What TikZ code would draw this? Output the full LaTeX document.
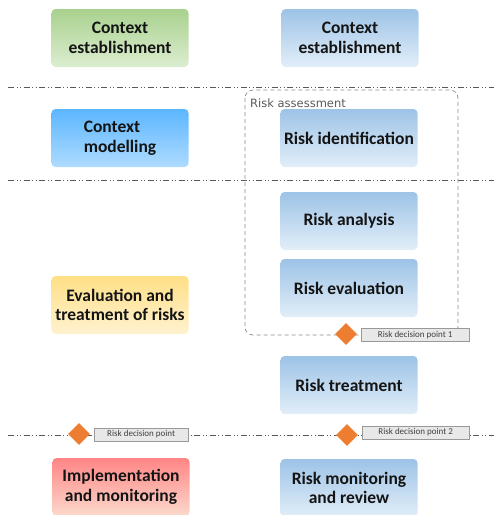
\documentclass[tikz,border=0pt]{standalone}
\usepackage{fontspec}
\setmainfont{Carlito}
\newfontfamily\framefont{DejaVu Sans}
\usetikzlibrary{arrows,fit,positioning,shapes.geometric}
\definecolor{greentop}{HTML}{A9D18E}
\definecolor{greenbot}{HTML}{DCEDD0}
\definecolor{bluetop}{HTML}{9DC3E6}
\definecolor{bluebot}{HTML}{E2EEF9}
\definecolor{skytop}{HTML}{5CB6FF}
\definecolor{skybot}{HTML}{AEDBFF}
\definecolor{yellowtop}{HTML}{FFDF86}
\definecolor{yellowbot}{HTML}{FFF2CF}
\definecolor{redtop}{HTML}{FF8585}
\definecolor{redbot}{HTML}{FBD9CC}
\definecolor{decisionorange}{HTML}{ED7D31}
\tikzset{
    %Define style for boxes
    phase/.style={
           rectangle,
           rounded corners=4pt,
           minimum width=137pt,
           minimum height=58pt,
           font=\fontsize{17.5}{19.5}\selectfont\bfseries,
           text=black!92,
           align=center},
    greenbox/.style={phase, top color=greentop, bottom color=greenbot},
    bluebox/.style={phase, top color=bluetop, bottom color=bluebot},
    skybox/.style={phase, top color=skytop, bottom color=skybot, align=left},
    yellowbox/.style={phase, top color=yellowtop, bottom color=yellowbot},
    redbox/.style={phase, top color=redtop, bottom color=redbot},
    %Define style for decision points
    decision/.style={
           diamond,
           fill=decisionorange,
           minimum width=22pt,
           minimum height=22pt,
           inner sep=0pt},
    decisionlabel/.style={
           rectangle,
           draw=black!40, fill=black!9,
           minimum height=13pt,
           inner sep=1pt,
           font=\fontsize{9}{10}\selectfont,
           text=black!75},
    % Define line styles
    separator/.style={
           draw=black!65,
           line width=0.9pt,
           dash pattern=on 6pt off 2.5pt on 1pt off 2.5pt on 1pt off 2.5pt},
    assessframe/.style={
           draw=black!45,
           line width=0.7pt,
           dash pattern=on 4pt off 3pt,
           rounded corners=8pt}
}
\begin{document}
\begin{tikzpicture}[x=1pt,y=-1pt]
\useasboundingbox (0,0) rectangle (494,515);
 %separators
\coordinate (sepaw) at (8,87);
\coordinate (sepae) at (494,87);
\coordinate (sepbw) at (8,180);
\coordinate (sepbe) at (494,180);
\coordinate (sepcw) at (8,435);
\coordinate (sepce) at (494,435);
\path[separator] (sepaw) -- (sepae);
\path[separator] (sepbw) -- (sepbe);
\path[separator] (sepcw) -- (sepce);
 %risk assessment frame
\draw[assessframe] (245,90) rectangle (458,335);
\node[anchor=north west, inner sep=1pt, font=\framefont\fontsize{11.5}{13}\selectfont, text=black!65]
    (assesslabel) at (249,97.5) {Risk assessment};
 %left column
\node[greenbox] (ctxest) at (120,38) {Context\\establishment};
\node[skybox] (ctxmod) at (120,138) {Context\\modelling};
\node[yellowbox] (evaltreat) at (120,305) {Evaluation and\\treatment of risks};
\node[redbox] (implmon) at (121,487) {Implementation\\and monitoring};
 %right column
\node[bluebox] (riskctx) at (350,38) {Context\\establishment};
\node[bluebox] (riskid) at (349,138) {Risk identification};
\node[bluebox] (riskan) at (349,221) {Risk analysis};
\node[bluebox] (riskev) at (349,288) {Risk evaluation};
\node[bluebox] (risktreat) at (349,385) {Risk treatment};
\node[bluebox] (riskmon) at (349,488) {Risk monitoring\\and review};
 %decision points
\node[decision] (dec1) at (346,334) {};
\node[decisionlabel, anchor=west, minimum width=108pt] (dec1lbl) at (361,335) {Risk decision point 1};
\node[decision] (dec2) at (347,435) {};
\node[decisionlabel, anchor=west, minimum width=107pt] (dec2lbl) at (362,432.5) {Risk decision point 2};
\node[decision] (dec0) at (79,434) {};
\node[decisionlabel, anchor=west, minimum width=94pt] (dec0lbl) at (94,434.5) {Risk decision point};
\end{tikzpicture}
\end{document}
